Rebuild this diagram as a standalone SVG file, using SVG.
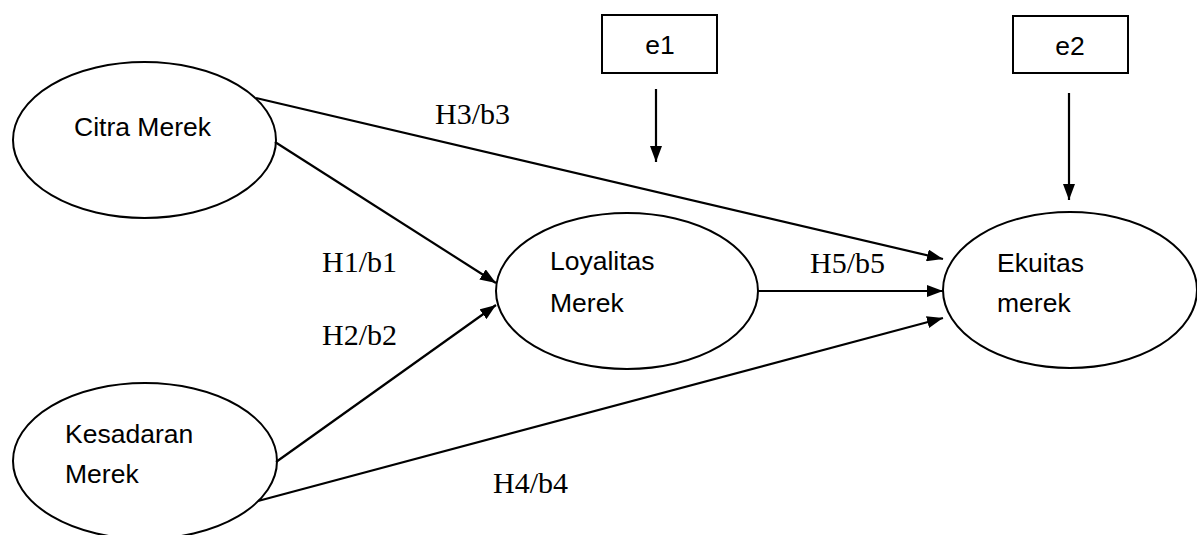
<svg xmlns="http://www.w3.org/2000/svg" width="1197" height="535" viewBox="0 0 1197 535">
<style>
.node{fill:#fff;stroke:#000;stroke-width:2}
.lbl{font-family:"Liberation Sans",Arial,sans-serif;font-size:26.5px;fill:#000}
.h{font-family:"Liberation Serif","Times New Roman",serif;font-size:30px;fill:#000}
.edge{stroke:#000;stroke-width:2.2;fill:none;marker-end:url(#ah)}
</style>
<defs>
<marker id="ah" viewBox="0 0 16 12" refX="16" refY="6" markerWidth="16" markerHeight="12" markerUnits="userSpaceOnUse" orient="auto">
<path d="M0,0 L16,6 L0,12 Z" fill="#000"/>
</marker>
</defs>
<rect width="1197" height="535" fill="#fff"/>
<g id="citra">
<ellipse class="node" cx="144.5" cy="140" rx="131.5" ry="78"/>
<text class="lbl" x="74" y="136">Citra Merek</text>
</g>
<g id="kesadaran">
<ellipse class="node" cx="145" cy="461" rx="132" ry="78"/>
<text class="lbl" x="65" y="443">Kesadaran</text>
<text class="lbl" x="65" y="483">Merek</text>
</g>
<g id="loyalitas">
<ellipse class="node" cx="627" cy="291" rx="131" ry="78"/>
<text class="lbl" x="550" y="270">Loyalitas</text>
<text class="lbl" x="550" y="312">Merek</text>
</g>
<g id="ekuitas">
<ellipse class="node" cx="1070" cy="290" rx="127" ry="78"/>
<text class="lbl" x="997" y="272">Ekuitas</text>
<text class="lbl" x="997" y="312">merek</text>
</g>
<g id="e1">
<rect class="node" x="602" y="15" width="115" height="58"/>
<text class="lbl" x="660" y="54" text-anchor="middle">e1</text>
</g>
<g id="e2">
<rect class="node" x="1013" y="16" width="115" height="57"/>
<text class="lbl" x="1070" y="55" text-anchor="middle">e2</text>
</g>
<g id="connectors">
<line class="edge" x1="256" y1="98" x2="943" y2="259"/>
<line class="edge" x1="275" y1="142" x2="496" y2="283"/>
<line class="edge" x1="276" y1="462" x2="496" y2="305"/>
<line class="edge" x1="258" y1="501" x2="943" y2="318"/>
<line class="edge" x1="758" y1="291" x2="943" y2="291"/>
<line class="edge" x1="656" y1="89" x2="656" y2="162"/>
<line class="edge" x1="1069" y1="93" x2="1069" y2="200"/>
</g>
<g id="labels">
<text class="h" x="435" y="124">H3/b3</text>
<text class="h" x="322" y="272">H1/b1</text>
<text class="h" x="322" y="345">H2/b2</text>
<text class="h" x="810" y="273">H5/b5</text>
<text class="h" x="493" y="493">H4/b4</text>
</g>
</svg>
